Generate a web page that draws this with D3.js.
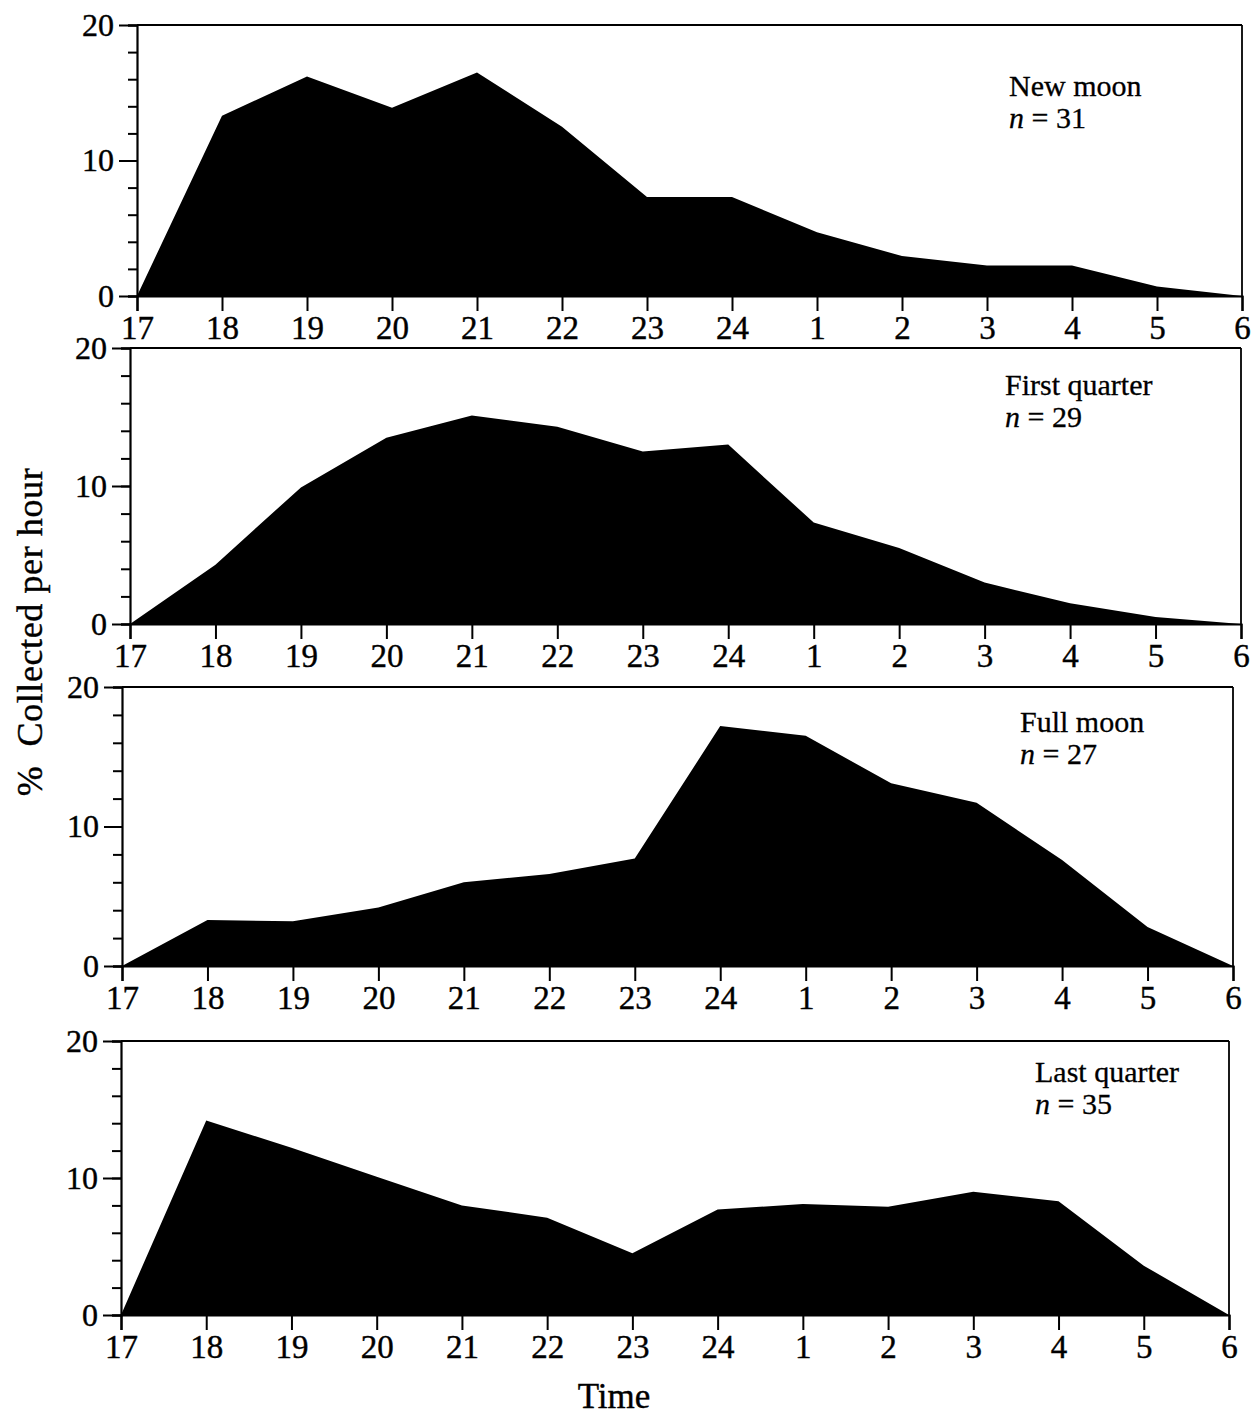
<!DOCTYPE html>
<html>
<head>
<meta charset="utf-8">
<script src="https://cdn.jsdelivr.net/npm/d3@7"></script>
<style>
  body { margin: 0; background: #fff; }
  svg { display: block; }
  text { font-family: "Liberation Serif", "Times New Roman", serif; fill: #000; }
</style>
</head>
<body>
<script>
// Data (% collected per hour)
var hours = ['17', '18', '19', '20', '21', '22', '23', '24', '1', '2', '3', '4', '5', '6'];
var newMoon      = [0, 13.3, 16.2, 13.9, 16.5, 12.5, 7.3, 7.3, 4.7, 2.95, 2.25, 2.25, 0.7, 0];
var firstQuarter = [0, 4.3, 9.9, 13.5, 15.1, 14.3, 12.5, 13.0, 7.35, 5.5, 3.0, 1.5, 0.5, 0];
var fullMoon     = [0, 3.3, 3.2, 4.2, 6.0, 6.6, 7.7, 17.2, 16.5, 13.1, 11.7, 7.6, 2.8, 0];
var lastQuarter  = [0, 14.2, 12.2, 10.1, 8.0, 7.1, 4.5, 7.7, 8.1, 7.9, 9.0, 8.3, 3.6, 0];
var phaseNames = ['New moon', 'First quarter', 'Full moon', 'Last quarter'];
var phaseN = [31, 29, 27, 35];
var yMajorTicks = [0, 10, 20];
var yMinorTicks = [0, 2, 4, 6, 8, 10, 12, 14, 16, 18, 20];

// Layout
var width = 1253, height = 1418;
var panels = [
    { left: 137, right: 1242, top: 25,   bottom: 296,  lx: 1009, ly: 96 },
    { left: 130, right: 1241, top: 348,  bottom: 624,  lx: 1005, ly: 395 },
    { left: 122, right: 1233, top: 687,  bottom: 966,  lx: 1020, ly: 732 },
    { left: 121, right: 1229, top: 1041, bottom: 1315, lx: 1035, ly: 1082 }
];
var series = [newMoon, firstQuarter, fullMoon, lastQuarter];

var svg = d3.select('body')
    .append('svg')
    .attr('width', width)
    .attr('height', height);

series.forEach(function(values, i) {
    var p = panels[i];
    var w = p.right - p.left;
    var h = p.bottom - p.top;

    var x = d3.scalePoint().domain(hours).range([0, w]);
    var y = d3.scaleLinear().domain([0, 20]).range([h, 0]);

    var g = svg.append('g')
        .attr('transform', 'translate(' + p.left + ',' + p.top + ')');

    var area = d3.area()
        .x(function(d, k) { return x(hours[k]); })
        .y0(y(0))
        .y1(function(d) { return y(d); });

    g.append('path')
        .datum(values)
        .attr('d', area)
        .attr('fill', '#000');

    // frame: top and right
    g.append('line')
        .attr('x1', 0).attr('x2', w)
        .attr('y1', 0).attr('y2', 0)
        .attr('stroke', '#000').attr('stroke-width', 2);
    g.append('line')
        .attr('x1', w).attr('x2', w)
        .attr('y1', 0).attr('y2', h)
        .attr('stroke', '#000').attr('stroke-width', 1.8);

    // y axis: minor ticks then major ticks with labels
    g.append('g')
        .call(d3.axisLeft(y).tickValues(yMinorTicks).tickSize(9).tickFormat(''))
        .call(function(s) {
            s.select('.domain').attr('stroke-width', 2.2);
            s.selectAll('.tick line').attr('stroke-width', 2);
        });
    g.append('g')
        .call(d3.axisLeft(y).tickValues(yMajorTicks).tickSize(18).tickPadding(5))
        .call(function(s) {
            s.select('.domain').remove();
            s.selectAll('.tick line').attr('stroke-width', 2);
            s.selectAll('.tick text')
                .attr('font-size', 32)
                .attr('stroke', '#000').attr('stroke-width', 0.4)
                .attr('font-family', '"Liberation Serif", serif');
        });

    // x axis
    g.append('g')
        .attr('transform', 'translate(0,' + h + ')')
        .call(d3.axisBottom(x).tickSize(15).tickPadding(5))
        .call(function(s) {
            s.select('.domain').attr('stroke-width', 2.2);
            s.selectAll('.tick line').attr('stroke-width', 2);
            s.selectAll('.tick text')
                .attr('font-size', 33)
                .attr('stroke', '#000').attr('stroke-width', 0.4)
                .attr('font-family', '"Liberation Serif", serif');
        });

    // panel label
    svg.append('text')
        .attr('x', p.lx).attr('y', p.ly)
        .attr('font-size', 30)
        .attr('stroke', '#000').attr('stroke-width', 0.3)
        .text(phaseNames[i]);
    var t = svg.append('text')
        .attr('x', p.lx).attr('y', p.ly + 32)
        .attr('font-size', 30)
        .attr('stroke', '#000').attr('stroke-width', 0.3);
    t.append('tspan').attr('font-style', 'italic').text('n');
    t.append('tspan').text(' = ' + phaseN[i]);
});

// axis titles
svg.append('text')
    .attr('transform', 'translate(42,632) rotate(-90)')
    .attr('text-anchor', 'middle')
    .attr('font-size', 36)
    .attr('letter-spacing', 0.6)
    .attr('stroke', '#000').attr('stroke-width', 0.4)
    .style('white-space', 'pre')
    .text('%  Collected per hour');

svg.append('text')
    .attr('x', 614).attr('y', 1408)
    .attr('text-anchor', 'middle')
    .attr('font-size', 35)
    .attr('stroke', '#000').attr('stroke-width', 0.4)
    .text('Time');
</script>
</body>
</html>
